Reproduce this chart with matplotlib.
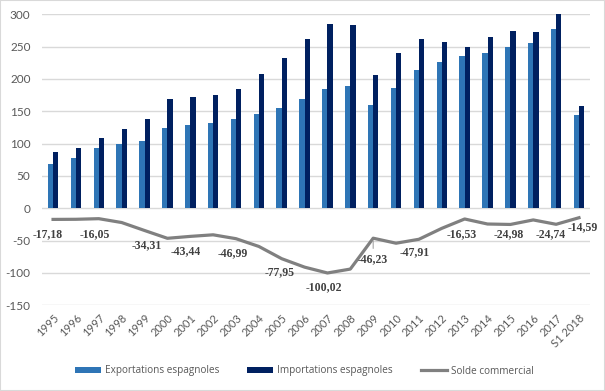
import numpy as np
import matplotlib.pyplot as plt
from matplotlib.patches import Rectangle

plt.rcParams["axes.unicode_minus"] = False

years = ["1995", "1996", "1997", "1998", "1999", "2000", "2001", "2002", "2003",
         "2004", "2005", "2006", "2007", "2008", "2009", "2010", "2011", "2012",
         "2013", "2014", "2015", "2016", "2017", "S1 2018"]
exports = [68.5, 77.7, 93.2, 99.4, 104.0, 124.0, 128.8, 131.9, 138.0, 145.7, 155.0, 169.0,
           184.0, 189.0, 159.7, 186.0, 214.0, 226.4, 235.7, 240.4, 249.7, 255.5, 277.0, 144.0]
imports = [86.6, 93.2, 108.7, 122.6, 138.0, 169.0, 172.0, 175.0, 184.0, 207.6, 232.0, 261.6,
           284.8, 283.0, 206.0, 240.0, 261.6, 257.0, 250.0, 264.6, 274.0, 272.5, 300.0, 158.0]
solde = [-17.18, -17.0, -16.05, -22.0, -34.31, -46.4, -43.44, -41.0, -46.99, -59.0, -77.95, -91.0,
         -100.02, -94.0, -46.23, -54.0, -47.91, -31.0, -16.53, -24.3, -24.98, -18.0, -24.74, -14.59]
labelled = [0, 2, 4, 6, 8, 10, 12, 14, 16, 18, 20, 22, 23]

# label offsets in pixels (dx, dy)
offsets = {0: (-5, -15), 2: (-4, -15), 4: (2, -15), 6: (-5, -15), 8: (-3, -14),
           10: (-2, -13), 12: (-4, -14), 14: (0, -21), 16: (-4, -13), 18: (-3, -15),
           20: (-2, -10), 22: (-5, -10), 23: (4, -9)}

grey = "#595959"
fig = plt.figure(figsize=(6.05, 3.91), dpi=100)
ax = fig.add_axes([0.0688, 0.2192, 0.9071, 0.7442])

x = np.arange(len(years))
w = 0.23
b1 = ax.bar(x - w / 2, exports, w, color="#2E75B6", label="Exportations espagnoles", zorder=2)
b2 = ax.bar(x + w / 2, imports, w, color="#002060", label="Importations espagnoles", zorder=2)
l1, = ax.plot(x, solde, color="#808080", lw=2.3, label="Solde commercial", zorder=3)

for i in labelled:
    dx, dy = offsets[i]
    ax.annotate(f"{solde[i]:.2f}".replace(".", ","), (x[i], solde[i]),
                xytext=(dx, dy), textcoords="offset pixels", ha="center", va="center",
                family="Liberation Serif", fontweight="bold", fontsize=8.5, color="#404040")
# leader line for the moved 2009 label
ax.annotate("", (x[14], solde[14]), xytext=(0, -13), textcoords="offset pixels",
            arrowprops=dict(arrowstyle="-", color="#A6A6A6", lw=0.8))

ax.set_xlim(-0.5, len(years) - 0.5)
ax.set_ylim(-150, 300)
ax.set_yticks(np.arange(-150, 301, 50))
ax.yaxis.grid(True, color="#D9D9D9", lw=1, zorder=0)
ax.set_axisbelow(True)
for s in ax.spines.values():
    s.set_visible(False)
ax.tick_params(length=0)
ax.tick_params(axis="y", pad=8, labelsize=8.5, labelcolor=grey)
ax.set_xticks(x)
ax.set_xticklabels(years, rotation=45, ha="right", rotation_mode="anchor",
                   fontsize=8, color=grey)
ax.tick_params(axis="x", pad=5)
for lab in ax.get_xticklabels() + ax.get_yticklabels():
    lab.set_family("Lato")

leg = fig.legend([b1, b2, l1], [b1.get_label(), b2.get_label(), l1.get_label()],
                 loc="center", bbox_to_anchor=(304.5 / 605, 1 - 371 / 391), ncol=3,
                 frameon=False, prop={"family": "Open Sans", "size": 7.2},
                 handlelength=2.6, handleheight=0.6, handletextpad=0.4, columnspacing=2.8)
for t in leg.get_texts():
    t.set_color(grey)

fig.add_artist(Rectangle((0, 0), 1, 1, transform=fig.transFigure, fill=False,
                         edgecolor="#D9D9D9", lw=1.5))

fig.savefig("out.png", dpi=100)
